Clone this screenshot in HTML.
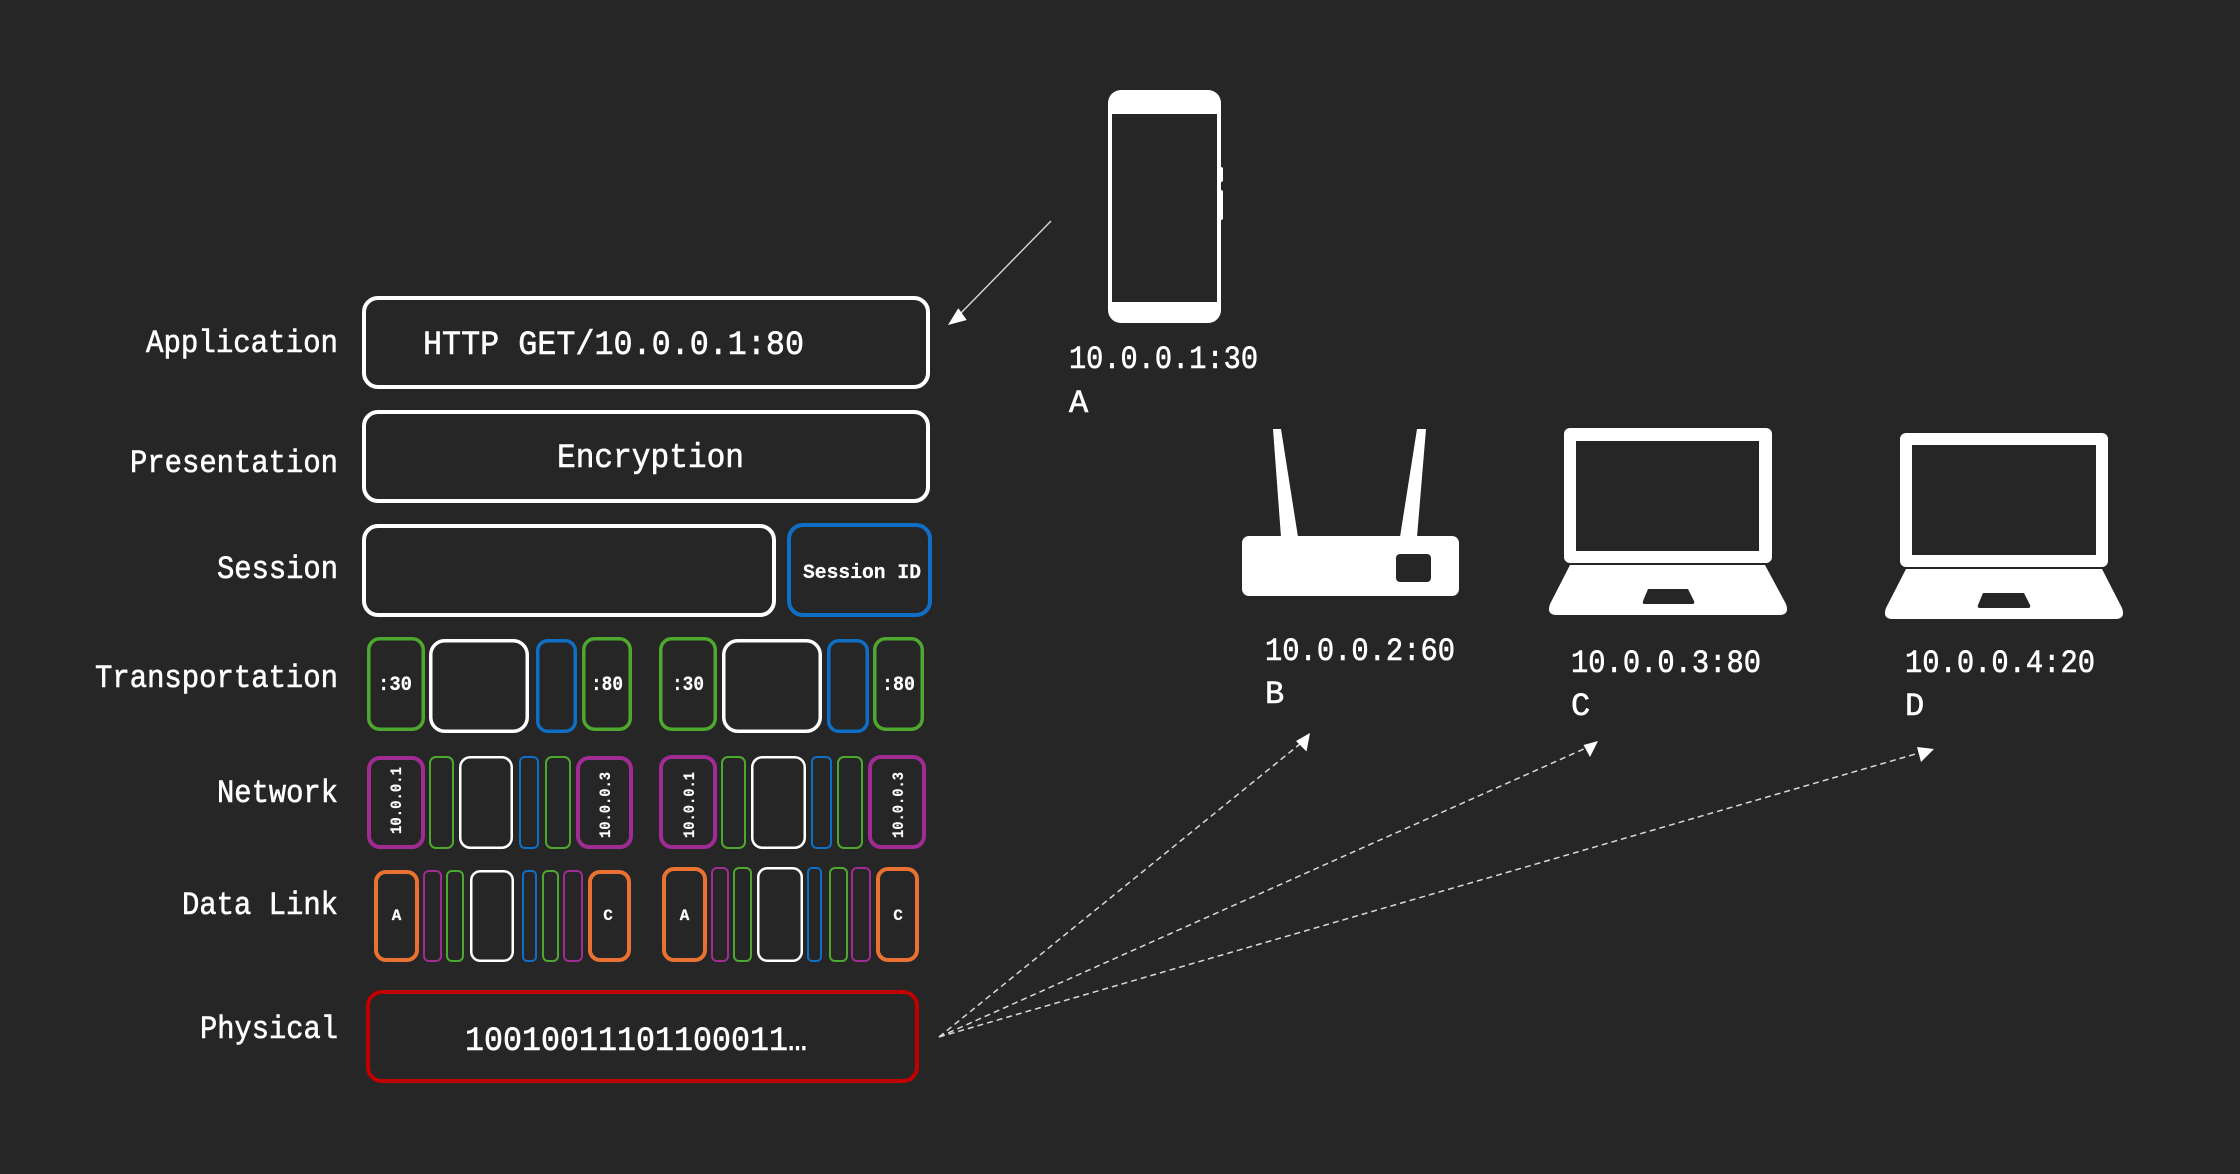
<!DOCTYPE html>
<html>
<head>
<meta charset="utf-8">
<style>
html,body{margin:0;padding:0;background:#262626;}
svg{display:block;}
text{font-family:"Liberation Mono", monospace;fill:#ffffff;stroke:#ffffff;stroke-width:0.6px;}
.lbl{font-size:32px;}
.big{font-size:34px;}
.sm{font-size:20px;font-weight:bold;stroke-width:0.2px;}
.rot{font-size:16px;font-weight:bold;stroke-width:0.2px;}
.dl{font-size:16px;font-weight:bold;stroke-width:0.2px;}
</style>
</head>
<body>
<svg width="2240" height="1174" viewBox="0 0 2240 1174" xmlns="http://www.w3.org/2000/svg">
<rect x="0" y="0" width="2240" height="1174" fill="#262626"/>

<!-- Layer labels -->
<text class="lbl" x="338" y="352" text-anchor="end" textLength="192" lengthAdjust="spacingAndGlyphs">Application</text>
<text class="lbl" x="338" y="472" text-anchor="end" textLength="208" lengthAdjust="spacingAndGlyphs">Presentation</text>
<text class="lbl" x="338" y="578" text-anchor="end" textLength="121" lengthAdjust="spacingAndGlyphs">Session</text>
<text class="lbl" x="338" y="687" text-anchor="end" textLength="243" lengthAdjust="spacingAndGlyphs">Transportation</text>
<text class="lbl" x="338" y="802" text-anchor="end" textLength="121" lengthAdjust="spacingAndGlyphs">Network</text>
<text class="lbl" x="338" y="914" text-anchor="end" textLength="156" lengthAdjust="spacingAndGlyphs">Data Link</text>
<text class="lbl" x="338" y="1038" text-anchor="end" textLength="138" lengthAdjust="spacingAndGlyphs">Physical</text>

<!-- Application -->
<rect x="364" y="298" width="564" height="89" rx="14" fill="none" stroke="#ffffff" stroke-width="4"/>
<text class="big" x="423" y="354" textLength="381" lengthAdjust="spacingAndGlyphs">HTTP GET/10.0.0.1:80</text>

<!-- Presentation -->
<rect x="364" y="412" width="564" height="89" rx="14" fill="none" stroke="#ffffff" stroke-width="4"/>
<text class="big" x="557" y="467" textLength="187" lengthAdjust="spacingAndGlyphs">Encryption</text>

<!-- Session -->
<rect x="364" y="526" width="410" height="89" rx="14" fill="none" stroke="#ffffff" stroke-width="4"/>
<rect x="789" y="525" width="141" height="90" rx="14" fill="none" stroke="#0F6FC6" stroke-width="4"/>
<text class="sm" x="803" y="578" textLength="118" lengthAdjust="spacingAndGlyphs">Session ID</text>

<!-- Transportation -->
<g fill="none" stroke-width="3.5">
<rect x="368.75" y="638.75" width="54.5" height="90.5" rx="11" stroke="#4EA72E"/>
<rect x="430.75" y="640.75" width="96.5" height="90.5" rx="14" stroke="#ffffff"/>
<rect x="537.75" y="640.75" width="37.5" height="90.5" rx="10" stroke="#0F6FC6"/>
<rect x="583.75" y="638.75" width="46.5" height="90.5" rx="11" stroke="#4EA72E"/>

<rect x="660.75" y="638.75" width="54.5" height="90.5" rx="11" stroke="#4EA72E"/>
<rect x="723.75" y="640.75" width="96.5" height="90.5" rx="14" stroke="#ffffff"/>
<rect x="828.75" y="640.75" width="38.5" height="90.5" rx="10" stroke="#0F6FC6"/>
<rect x="874.75" y="638.75" width="47.5" height="90.5" rx="11" stroke="#4EA72E"/>
</g>
<text class="sm" x="378" y="690" textLength="34" lengthAdjust="spacingAndGlyphs">:30</text>
<text class="sm" x="591" y="690" textLength="32" lengthAdjust="spacingAndGlyphs">:80</text>
<text class="sm" x="672" y="690" textLength="32" lengthAdjust="spacingAndGlyphs">:30</text>
<text class="sm" x="882" y="690" textLength="33" lengthAdjust="spacingAndGlyphs">:80</text>

<!-- Network -->
<g fill="none">
<rect x="369" y="758" width="54" height="89" rx="11" stroke="#A02B93" stroke-width="4"/>
<rect x="430" y="757" width="23" height="91" rx="6" stroke="#4EA72E" stroke-width="2"/>
<rect x="460.25" y="757.25" width="51.5" height="90.5" rx="10" stroke="#ffffff" stroke-width="2.5"/>
<rect x="520" y="757" width="18" height="91" rx="5" stroke="#0F6FC6" stroke-width="2"/>
<rect x="546" y="757" width="24" height="91" rx="6" stroke="#4EA72E" stroke-width="2"/>
<rect x="578" y="758" width="53" height="89" rx="11" stroke="#A02B93" stroke-width="4"/>

<rect x="661" y="757" width="54" height="90" rx="11" stroke="#A02B93" stroke-width="4"/>
<rect x="722" y="757" width="23" height="91" rx="6" stroke="#4EA72E" stroke-width="2"/>
<rect x="752.25" y="757.25" width="52.5" height="90.5" rx="10" stroke="#ffffff" stroke-width="2.5"/>
<rect x="812" y="757" width="19" height="91" rx="5" stroke="#0F6FC6" stroke-width="2"/>
<rect x="838" y="757" width="24" height="91" rx="6" stroke="#4EA72E" stroke-width="2"/>
<rect x="870" y="757" width="54" height="90" rx="11" stroke="#A02B93" stroke-width="4"/>
</g>
<text class="rot" transform="translate(401,834) rotate(-90)" textLength="67" lengthAdjust="spacingAndGlyphs">10.0.0.1</text>
<text class="rot" transform="translate(610,838) rotate(-90)" textLength="66" lengthAdjust="spacingAndGlyphs">10.0.0.3</text>
<text class="rot" transform="translate(694,838) rotate(-90)" textLength="66" lengthAdjust="spacingAndGlyphs">10.0.0.1</text>
<text class="rot" transform="translate(903,838) rotate(-90)" textLength="66" lengthAdjust="spacingAndGlyphs">10.0.0.3</text>

<!-- Data Link -->
<g fill="none">
<rect x="376" y="872" width="41" height="88" rx="10" stroke="#E97132" stroke-width="4"/>
<rect x="424" y="871" width="17" height="90" rx="5" stroke="#A02B93" stroke-width="2"/>
<rect x="447" y="871" width="16" height="90" rx="5" stroke="#4EA72E" stroke-width="2"/>
<rect x="471.25" y="871.25" width="41.5" height="89.5" rx="9" stroke="#ffffff" stroke-width="2.5"/>
<rect x="523" y="871" width="13" height="90" rx="4" stroke="#0F6FC6" stroke-width="2"/>
<rect x="543" y="871" width="15" height="90" rx="5" stroke="#4EA72E" stroke-width="2"/>
<rect x="564" y="871" width="18" height="90" rx="5" stroke="#A02B93" stroke-width="2"/>
<rect x="590" y="872" width="39" height="88" rx="10" stroke="#E97132" stroke-width="4"/>

<rect x="664" y="869" width="41" height="91" rx="10" stroke="#E97132" stroke-width="4"/>
<rect x="712" y="868" width="16" height="93" rx="5" stroke="#A02B93" stroke-width="2"/>
<rect x="734" y="868" width="17" height="93" rx="5" stroke="#4EA72E" stroke-width="2"/>
<rect x="758.25" y="868.25" width="43.5" height="92.5" rx="9" stroke="#ffffff" stroke-width="2.5"/>
<rect x="808" y="868" width="13" height="93" rx="4" stroke="#0F6FC6" stroke-width="2"/>
<rect x="830" y="868" width="17" height="93" rx="5" stroke="#4EA72E" stroke-width="2"/>
<rect x="852" y="868" width="18" height="93" rx="5" stroke="#A02B93" stroke-width="2"/>
<rect x="878" y="869" width="39" height="91" rx="10" stroke="#E97132" stroke-width="4"/>
</g>
<text class="dl" x="396.5" y="920" text-anchor="middle">A</text>
<text class="dl" x="608" y="920" text-anchor="middle">C</text>
<text class="dl" x="684.5" y="920" text-anchor="middle">A</text>
<text class="dl" x="898" y="920" text-anchor="middle">C</text>

<!-- Physical -->
<rect x="368" y="992" width="549" height="89" rx="14" fill="none" stroke="#C00000" stroke-width="4"/>
<text class="big" x="465" y="1050" textLength="342" lengthAdjust="spacingAndGlyphs">10010011101100011…</text>

<!-- Solid arrow from phone -->
<line x1="1051" y1="221" x2="960" y2="314" stroke="#d9d9d9" stroke-width="1.4"/>
<polygon points="948,325 966.7,320 958.3,308.3" fill="#ffffff"/>

<!-- Phone -->
<rect x="1108" y="90" width="113" height="233" rx="13" fill="#ffffff"/>
<rect x="1112" y="114" width="105" height="188" fill="#262626"/>
<rect x="1219" y="167" width="4" height="15" rx="2" fill="#ffffff"/>
<rect x="1219" y="190" width="4" height="30" rx="2" fill="#ffffff"/>
<text class="lbl" x="1069" y="368" textLength="189" lengthAdjust="spacingAndGlyphs">10.0.0.1:30</text>
<text class="lbl" x="1069" y="412">A</text>

<!-- Router -->
<polygon points="1273,429 1281,429 1298,537 1281,537" fill="#ffffff"/>
<polygon points="1417,429 1426,429 1417,537 1400,537" fill="#ffffff"/>
<rect x="1242" y="536" width="217" height="60" rx="7" fill="#ffffff"/>
<rect x="1396" y="554" width="35" height="28" rx="4" fill="#262626"/>
<text class="lbl" x="1265" y="660" textLength="190" lengthAdjust="spacingAndGlyphs">10.0.0.2:60</text>
<text class="lbl" x="1265" y="703">B</text>

<!-- Laptop C -->
<rect x="1564" y="428" width="208" height="135" rx="6" fill="#ffffff"/>
<rect x="1576" y="441" width="183" height="110" fill="#262626"/>
<path d="M1570,565 L1765,565 L1786,604 Q1790,615 1779,615 L1557,615 Q1546,615 1550,604 Z" fill="#ffffff"/>
<path d="M1648,589 L1688,589 L1694,601 Q1695,604 1692,604 L1645,604 Q1642,604 1643,601 Z" fill="#262626"/>
<text class="lbl" x="1571" y="672" textLength="190" lengthAdjust="spacingAndGlyphs">10.0.0.3:80</text>
<text class="lbl" x="1571" y="715">C</text>

<!-- Laptop D -->
<rect x="1900" y="433" width="208" height="134" rx="6" fill="#ffffff"/>
<rect x="1912" y="445" width="184" height="110" fill="#262626"/>
<path d="M1906,569 L2102,569 L2122,608 Q2126,619 2115,619 L1893,619 Q1882,619 1886,608 Z" fill="#ffffff"/>
<path d="M1983,593 L2024,593 L2030,605 Q2031,608 2028,608 L1980,608 Q1977,608 1978,605 Z" fill="#262626"/>
<text class="lbl" x="1905" y="672" textLength="190" lengthAdjust="spacingAndGlyphs">10.0.0.4:20</text>
<text class="lbl" x="1905" y="715">D</text>

<!-- Dashed arrows from Physical -->
<g stroke="#d9d9d9" stroke-width="1.5" stroke-dasharray="6,4" fill="none">
<line x1="939" y1="1037" x2="1300" y2="744"/>
<line x1="939" y1="1037" x2="1586" y2="748"/>
<line x1="939" y1="1037" x2="1919" y2="753"/>
</g>
<g fill="#ffffff">
<polygon points="1310,733 1306.5,751.5 1296,741"/>
<polygon points="1598,741 1590,757 1583.5,745"/>
<polygon points="1934,749 1921,762 1917,747"/>
</g>
</svg>
</body>
</html>
